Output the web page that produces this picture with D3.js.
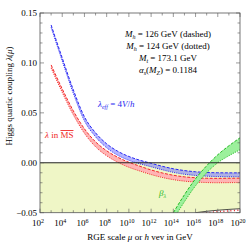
<!DOCTYPE html>
<html>
<head>
<meta charset="utf-8">
<script src="https://cdn.jsdelivr.net/npm/d3@7"></script>
<style>
body { margin: 0; background: #fff; }
text { font-family: "Liberation Serif", "DejaVu Serif", serif; }
</style>
</head>
<body>
<script>
// exponents of mu (GeV) on the RGE scale axis
let muExp = [3, 4, 5, 6, 7, 8, 9, 10, 11, 12, 13, 14, 15, 16, 17, 18, 19, 20];

// lambda_eff band (dashed = 126 GeV, dotted = 124 GeV)
let effHi = [0.138, 0.105, 0.073, 0.046, 0.030, 0.019, 0.0115, 0.0063, 0.0025, -0.0005, -0.0035, -0.0060, -0.0078, -0.0090, -0.0097, -0.0100, -0.0101, -0.0101];
let effLo = [0.1355, 0.102, 0.0695, 0.042, 0.026, 0.015, 0.0075, 0.0025, -0.0011, -0.0040, -0.0070, -0.0096, -0.0115, -0.0127, -0.0134, -0.0138, -0.0140, -0.0140];

// lambda in MS-bar band
let msHi = [0.098, 0.074, 0.052, 0.034, 0.021, 0.012, 0.0055, 0.0005, -0.0035, -0.0072, -0.0102, -0.0125, -0.0141, -0.0150, -0.0155, -0.0156, -0.0155, -0.0154];
let msLo = [0.095, 0.0705, 0.048, 0.0295, 0.016, 0.007, 0.0005, -0.0045, -0.0083, -0.0118, -0.0147, -0.0169, -0.0184, -0.0193, -0.0198, -0.0200, -0.0199, -0.0198];

// beta_lambda band
let betaExp = [14, 15, 16, 17, 18, 19, 20];
let betaHi = [-0.050, -0.032, -0.016, -0.003, 0.008, 0.017, 0.025];
let betaLo = [-0.0565, -0.039, -0.023, -0.010, 0.000, 0.007, 0.013];

// lower edge of the metastable (yellow) region
let edgeExp = [16, 17, 18, 19, 20];
let edgeVal = [-0.050, -0.0486, -0.0475, -0.0467, -0.0460];

let xTicks = [2, 4, 6, 8, 10, 12, 14, 16, 18, 20];
let yTicks = [-0.05, 0.00, 0.05, 0.10, 0.15];

let notes = ["M_h = 126 GeV (dashed)", "M_h = 124 GeV (dotted)", "M_t = 173.1 GeV", "α_s(M_Z) = 0.1184"];

window.onload = function(){
	let w = 249, h = 244;
	let left = 40, right = 240, top = 13, bottom = 212.7;

	let svg = d3.select("body").append("svg")
		.attr("width", w)
		.attr("height", h);

	let x = d3.scaleLinear().domain([2, 20]).range([left, right]);
	let y = d3.scaleLinear().domain([-0.05, 0.15]).range([bottom, top]);

	svg.append("defs").append("clipPath").attr("id", "plot")
		.append("rect").attr("x", left).attr("y", top)
		.attr("width", right - left).attr("height", bottom - top);

	let g = svg.append("g").attr("clip-path", "url(#plot)");

	//yellow metastability region
	let edgeFull = [2].concat(edgeExp);
	let edgeFullVal = [-0.05].concat(edgeVal);
	g.append("path")
		.datum(edgeFull.map(function(d, i){ return [d, edgeFullVal[i]]; }))
		.attr("d", d3.area().x(function(d){ return x(d[0]); }).y0(function(d){ return y(d[1]); }).y1(y(0)).curve(d3.curveMonotoneX))
		.style("fill", "#eff6c6");

	//bands
	function band(xs, hi, lo, fill, stroke){
		let pts = xs.map(function(d, i){ return {e: d, hi: hi[i], lo: lo[i]}; });
		g.append("path").datum(pts)
			.attr("d", d3.area().x(function(d){ return x(d.e); })
				.y0(function(d){ return y(d.lo); }).y1(function(d){ return y(d.hi); })
				.curve(d3.curveMonotoneX))
			.style("fill", fill);
		g.append("path").datum(pts)
			.attr("d", d3.line().x(function(d){ return x(d.e); }).y(function(d){ return y(d.hi); }).curve(d3.curveMonotoneX))
			.style("fill", "none").style("stroke", stroke).style("stroke-width", 1)
			.style("stroke-dasharray", "3,1.5");
		g.append("path").datum(pts)
			.attr("d", d3.line().x(function(d){ return x(d.e); }).y(function(d){ return y(d.lo); }).curve(d3.curveMonotoneX))
			.style("fill", "none").style("stroke", stroke).style("stroke-width", 1)
			.style("stroke-dasharray", "1,1.2");
	}

	band(muExp, msHi, msLo, "#ffb4b4", "#f02828");
	band(muExp, effHi, effLo, "rgba(120,120,255,0.55)", "#2828f0");
	band(betaExp, betaHi, betaLo, "#9cf09c", "#22b822");

	//instability edge
	g.append("path")
		.datum(edgeExp.map(function(d, i){ return [d, edgeVal[i]]; }))
		.attr("d", d3.line().x(function(d){ return x(d[0]); }).y(function(d){ return y(d[1]) + 1.5; }).curve(d3.curveMonotoneX))
		.style("fill", "none").style("stroke", "#e02020").style("stroke-width", 1.5)
		.style("stroke-dasharray", "1,2.5");
	g.append("path")
		.datum(edgeExp.map(function(d, i){ return [d, edgeVal[i]]; }))
		.attr("d", d3.line().x(function(d){ return x(d[0]); }).y(function(d){ return y(d[1]); }).curve(d3.curveMonotoneX))
		.style("fill", "none").style("stroke", "#222").style("stroke-width", 0.8);

	//zero line
	svg.append("line")
		.attr("x1", left).attr("x2", right)
		.attr("y1", y(0)).attr("y2", y(0))
		.style("stroke", "#222").style("stroke-width", 1);

	//frame
	svg.append("rect")
		.attr("x", left).attr("y", top)
		.attr("width", right - left).attr("height", bottom - top)
		.style("fill", "none").style("stroke", "#555").style("stroke-width", 0.8);

	//ticks (inward, all four sides)
	let ticks = svg.append("g").style("stroke", "#555").style("stroke-width", 0.6);
	d3.range(2, 21).forEach(function(e){
		let len = e % 2 === 0 ? 4 : 2.5;
		ticks.append("line").attr("x1", x(e)).attr("x2", x(e)).attr("y1", bottom).attr("y2", bottom - len);
		ticks.append("line").attr("x1", x(e)).attr("x2", x(e)).attr("y1", top).attr("y2", top + len);
	});
	d3.range(-5, 16).forEach(function(k){
		let v = k / 100;
		let len = k % 5 === 0 ? 4 : 2.5;
		ticks.append("line").attr("x1", left).attr("x2", left + len).attr("y1", y(v)).attr("y2", y(v));
		ticks.append("line").attr("x1", right).attr("x2", right - len).attr("y1", y(v)).attr("y2", y(v));
	});

	//tick labels
	let fmt = d3.format(".2f");
	svg.selectAll(".ylab").data(yTicks).enter().append("text")
		.attr("class", "ylab")
		.attr("x", left - 3).attr("y", function(d){ return y(d) + 3; })
		.attr("text-anchor", "end")
		.style("font-size", "9px")
		.text(function(d){ return d < 0 ? "\u2212" + fmt(-d) : fmt(d); });

	let xl = svg.selectAll(".xlab").data(xTicks).enter().append("text")
		.attr("class", "xlab")
		.attr("x", function(d){ return x(d) - 2; }).attr("y", 226)
		.attr("text-anchor", "middle")
		.style("font-size", "9px");
	xl.append("tspan").text("10");
	xl.append("tspan").attr("dy", -3.5).style("font-size", "6px").text(function(d){ return d; });

	//axis titles
	let xt = svg.append("text").attr("x", 140).attr("y", 240).attr("text-anchor", "middle").style("font-size", "9px");
	xt.append("tspan").text("RGE scale ");
	xt.append("tspan").style("font-style", "italic").text("μ");
	xt.append("tspan").text(" or ");
	xt.append("tspan").style("font-style", "italic").text("h");
	xt.append("tspan").text(" vev in GeV");

	let yt = svg.append("text").attr("transform", "translate(12,96) rotate(-90)")
		.attr("text-anchor", "middle").style("font-size", "9px");
	yt.append("tspan").text("Higgs quartic coupling ");
	yt.append("tspan").style("font-style", "italic").text("λ");
	yt.append("tspan").text("(");
	yt.append("tspan").style("font-style", "italic").text("μ");
	yt.append("tspan").text(")");

	//parameter notes
	notes.forEach(function(s, i){
		let t = svg.append("text").attr("x", 168).attr("y", 37 + i * 12)
			.attr("text-anchor", "middle").style("font-size", "9px");
		let parts = s.split("_");
		if (i < 3){
			t.append("tspan").style("font-style", "italic").text(parts[0]);
			t.append("tspan").attr("dy", 2).style("font-size", "6px").style("font-style", "italic").text(parts[1].charAt(0));
			t.append("tspan").attr("dy", -2).text(parts[1].slice(1));
		} else {
			t.append("tspan").style("font-style", "italic").text("α");
			t.append("tspan").attr("dy", 2).style("font-size", "6px").style("font-style", "italic").text("s");
			t.append("tspan").attr("dy", -2).text("(");
			t.append("tspan").style("font-style", "italic").text("M");
			t.append("tspan").attr("dy", 2).style("font-size", "6px").style("font-style", "italic").text("Z");
			t.append("tspan").attr("dy", -2).text(") = 0.1184");
		}
	});

	//band labels
	let le = svg.append("text").attr("x", 98).attr("y", 107).style("font-size", "9px").style("fill", "#2828f0");
	le.append("tspan").style("font-style", "italic").text("λ");
	le.append("tspan").attr("dy", 2).style("font-size", "6px").style("font-style", "italic").text("eff");
	le.append("tspan").attr("dy", -2).text(" = 4");
	le.append("tspan").style("font-style", "italic").text("V");
	le.append("tspan").text("/");
	le.append("tspan").style("font-style", "italic").text("h");

	let lm = svg.append("text").attr("x", 45).attr("y", 138).style("font-size", "9px").style("fill", "#f02828");
	lm.append("tspan").style("font-style", "italic").text("λ");
	lm.append("tspan").text(" in ");
	lm.append("tspan").style("text-decoration", "overline").text("MS");

	let lb = svg.append("text").attr("x", 159).attr("y", 196).style("font-size", "9px").style("fill", "#22b822");
	lb.append("tspan").style("font-style", "italic").text("β");
	lb.append("tspan").attr("dy", 2).style("font-size", "6px").style("font-style", "italic").text("λ");
};
</script>
</body>
</html>
